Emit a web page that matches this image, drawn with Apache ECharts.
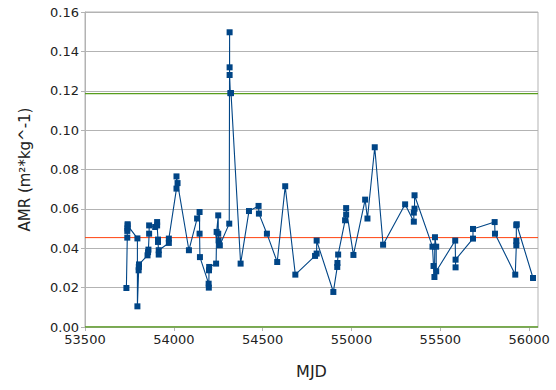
<!DOCTYPE html>
<html><head><meta charset="utf-8">
<script src="https://cdn.jsdelivr.net/npm/echarts@6/dist/echarts.min.js"></script>
<style>html,body{margin:0;padding:0;background:#fff}#c{width:556px;height:390px}</style>
</head><body><div id="c"></div>
<script>
const mjd = [53733,53738,53738,53739,53740,53740,53795,53795,53802,53803,53804,53852,53855,53857,53861,53861,
53895,53906,53906,53911,53911,53915,53915,53972,53972,54015,54015,54021,54085,54131,54145,54145,54147,
54196,54197,54198,54199,54238,54241,54250,54250,54252,54259,54312,54314,54314,54314,54318,54322,54376,
54423,54477,54479,54524,54582,54627,54684,54795,54804,54804,54898,54920,54921,54925,54964,54970,54970,
55011,55077,55090,55131,55178,55302,55351,55351,55355,55355,55456,55462,55467,55470,55477,55477,
55584,55586,55586,55684,55684,55806,55808,55922,55928,55928,55928,55930,56022];
const amr = [0.0198,0.0454,0.0488,0.0501,0.0522,0.0516,0.0450,0.0105,0.0288,0.0305,0.0318,0.0364,0.0380,0.0393,0.0474,0.0516,
0.0508,0.0533,0.0516,0.0444,0.0432,0.0368,0.0390,0.0427,0.0449,0.0703,0.0765,0.0731,0.0390,0.0551,0.0584,0.0474,0.0355,
0.0220,0.0200,0.0288,0.0305,0.0322,0.0483,0.0567,0.0474,0.0440,0.0415,0.0525,0.1497,0.1319,0.1280,0.1188,0.1188,0.0322,
0.0589,0.0615,0.0576,0.0474,0.0330,0.0715,0.0266,0.0361,0.0373,0.0439,0.0178,0.0305,0.0325,0.0368,0.0542,0.0571,0.0604,
0.0366,0.0647,0.0551,0.0913,0.0418,0.0623,0.0535,0.0581,0.0601,0.0669,0.0408,0.0310,0.0254,0.0456,0.0408,0.0283,
0.0439,0.0303,0.0342,0.0449,0.0498,0.0533,0.0474,0.0266,0.0415,0.0437,0.0517,0.0522,0.0249];
const meanValue = 0.0454;
const upperLimit = 0.1185;
const lowerLimit = 0.0;
const xRange = [53500, 56050];
const xTicks = [53500,54000,54500,55000,55500,56000];
const xName = 'MJD';
const yName = 'AMR (m²*kg^-1)';

const chart = echarts.init(document.getElementById('c'), null, {renderer:'svg'});
const font = 'DejaVu Sans';
function refLine(v, color, w){
  return {type:'line',data:xRange.map(x=>[x,v]),symbol:'none',silent:true,
    lineStyle:{color:color,width:w},itemStyle:{color:color},z:1};
}
chart.setOption({
  animation:false,
  grid:{left:85,right:18,top:12,bottom:63,show:true,borderColor:'#b3b3b3',borderWidth:1,backgroundColor:'transparent'},
  xAxis:{type:'value',min:xRange[0],max:xRange[1],interval:500,
    name:xName,nameLocation:'middle',nameGap:36,
    nameTextStyle:{fontFamily:font,fontSize:16,color:'#222'},
    axisLine:{lineStyle:{color:'#b3b3b3'}},
    axisTick:{show:true,length:4,lineStyle:{color:'#b3b3b3'},customValues:xTicks},
    axisLabel:{fontFamily:font,fontSize:13,color:'#222',margin:6,customValues:xTicks,formatter:v=>String(v)},
    splitLine:{show:false}},
  yAxis:{type:'value',min:0,max:0.16,interval:0.02,
    name:yName,nameLocation:'middle',nameGap:53,nameRotate:90,
    nameTextStyle:{fontFamily:font,fontSize:15,color:'#222'},
    axisLine:{show:true,lineStyle:{color:'#b3b3b3'}},
    axisTick:{show:true,length:4,lineStyle:{color:'#b3b3b3'}},
    axisLabel:{fontFamily:font,fontSize:13,color:'#222',margin:6,formatter:v=>v.toFixed(2)},
    splitLine:{show:true,lineStyle:{color:'#b3b3b3',width:1}}},
  series:[
    refLine(meanValue,'#ff420e',1),
    refLine(upperLimit,'#579d1c',1.2),
    refLine(lowerLimit,'#579d1c',1.6),
    {
    type:'line',data:mjd.map((x,i)=>[x,amr[i]]),
    symbol:'rect',symbolSize:6,showSymbol:true,
    lineStyle:{color:'#004586',width:1.1},itemStyle:{color:'#004586'}
  }]
});
</script></body></html>
